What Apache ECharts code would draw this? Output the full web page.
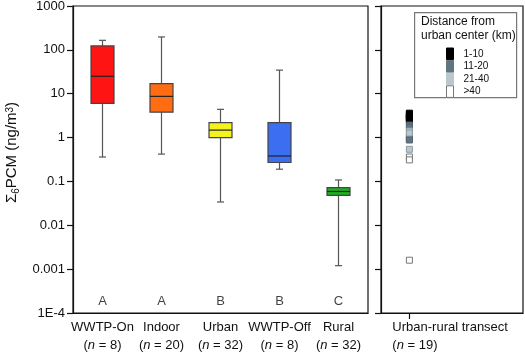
<!DOCTYPE html>
<html><head><meta charset="utf-8">
<script src="https://cdn.jsdelivr.net/npm/echarts@6/dist/echarts.min.js"></script>
<style>html,body{margin:0;padding:0;background:#fff}#c{width:525px;height:357px}</style>
</head><body><div id="c"></div>
<script>
// ---- data ----
const categories = ['WWTP-On', 'Indoor', 'Urban', 'WWTP-Off', 'Rural'];
const sampleN = [8, 20, 32, 8, 32];
const groupLetters = ['A', 'A', 'B', 'B', 'C'];
// [min, Q1, median, Q3, max]
const boxStats = [
  [0.36, 6.0, 25, 123, 165],
  [0.42, 3.8, 8.7, 17, 197],
  [0.034, 1.0, 1.48, 2.2, 4.4],
  [0.19, 0.27, 0.38, 2.2, 34.5],
  [0.0012, 0.048, 0.059, 0.072, 0.108]
];
const boxColors = ['#ff1414', '#ff6c12', '#f4f41c', '#3b6ef0', '#1fae1f'];
const yTickLabels = ['1E-4', '0.001', '0.01', '0.1', '1', '10', '100', '1000'];
const transectLabel = 'Urban-rural transect';
const transectN = 19;
const distanceClasses = ['1-10', '11-20', '21-40', '>40'];
const distanceColors = ['#000000', '#607580', '#b8c8cc', '#ffffff'];
const distanceBorders = ['#000000', '#56676f', '#8c9ca0', '#777777'];
const transectValues = [
  [3.6, 3.4, 3.2, 3.0, 2.9, 2.7, 2.6, 2.4],
  [1.93, 1.74, 1.03, 0.93, 0.88],
  [1.41, 1.27, 0.54],
  [0.36, 0.31, 0.0016]
];
const TRANSECT_POS = 0.2;     // position of transect category on right panel
const LETTER_Y = 0.00018;     // height of significance letters

const FONT = 'Liberation Sans, Arial, sans-serif';
const chart = echarts.init(document.getElementById('c'), null, {renderer: 'canvas'});

const boxData = boxStats.map((s, i) => ({value: [i].concat(s), itemStyle: {color: boxColors[i]}}));

const option = {
  animation: false,
  textStyle: {fontFamily: FONT},
  grid: [
    {left: 73, top: 6, width: 295, height: 307, show: true, borderColor: '#111', borderWidth: 1.2, backgroundColor: 'transparent', outerBoundsMode: 'none', containLabel: false},
    {left: 381, top: 6, width: 142, height: 307, show: true, borderColor: '#111', borderWidth: 1.2, backgroundColor: 'transparent', outerBoundsMode: 'none', containLabel: false}
  ],
  xAxis: [
    {
      type: 'category', gridIndex: 0, data: categories,
      axisLine: {lineStyle: {color: '#111', width: 1.2}},
      axisTick: {alignWithLabel: true, length: 6, lineStyle: {color: '#111', width: 1.2}},
      axisLabel: {
        interval: 0, hideOverlap: false, margin: 5, fontFamily: FONT, fontSize: 13, color: '#111', lineHeight: 18,
        formatter: (name, idx) => name + '\n{p|(}{i|n}{p| = ' + sampleN[idx] + ')}',
        rich: {p: {fontSize: 13, fontFamily: FONT, color: '#111'}, i: {fontSize: 13, fontStyle: 'italic', fontFamily: FONT, color: '#111'}}
      },
      splitLine: {show: false}
    },
    {
      type: 'value', gridIndex: 1, min: 0, max: 1,
      axisLine: {lineStyle: {color: '#111', width: 1.2}},
      axisTick: {customValues: [TRANSECT_POS], length: 6, lineStyle: {color: '#111', width: 1.2}},
      axisLabel: {
        customValues: [0.08], align: 'left', margin: 5, fontFamily: FONT, fontSize: 13, color: '#111', lineHeight: 18,
        formatter: () => transectLabel + '\n{p|(}{i|n}{p| = ' + transectN + ')}',
        rich: {p: {fontSize: 13, fontFamily: FONT, color: '#111'}, i: {fontSize: 13, fontStyle: 'italic', fontFamily: FONT, color: '#111'}}
      },
      splitLine: {show: false}
    }
  ],
  yAxis: [
    {
      type: 'log', logBase: 10, gridIndex: 0, min: 0.0001, max: 1000,
      axisLine: {show: true, lineStyle: {color: '#111', width: 1.2}},
      axisTick: {show: true, length: 6, lineStyle: {color: '#111', width: 1.2}},
      axisLabel: {
        margin: 8, fontFamily: FONT, fontSize: 13, color: '#111',
        formatter: v => yTickLabels[Math.round(Math.log10(v)) + 4]
      },
      splitLine: {show: false},
      name: '{s|Σ}{sub|6}{s|PCM (ng/m}{sup|3}{s|)}',
      nameLocation: 'middle', nameGap: 49,
      nameTextStyle: {
        fontFamily: FONT, color: '#111', padding: [0, 0, 0, 14],
        rich: {
          s: {fontSize: 15, fontFamily: FONT, color: '#111', lineHeight: 18},
          sub: {fontSize: 10, fontFamily: FONT, color: '#111', lineHeight: 18, verticalAlign: 'bottom', padding: [0, 0, -1, 0]},
          sup: {fontSize: 10, fontFamily: FONT, color: '#111', lineHeight: 18, verticalAlign: 'top', padding: [3, 0, 0, 0]}
        }
      }
    },
    {
      type: 'log', logBase: 10, gridIndex: 1, min: 0.0001, max: 1000,
      axisLine: {show: true, lineStyle: {color: '#111', width: 1.2}},
      axisTick: {show: true, length: 6, lineStyle: {color: '#111', width: 1.2}},
      axisLabel: {show: false},
      splitLine: {show: false}
    }
  ],
  legend: {
    data: distanceClasses.map((n, k) => ({name: n, itemStyle: {color: distanceColors[k], borderColor: k === 3 ? '#777' : distanceColors[k], borderWidth: 1}})),
    orient: 'vertical', left: 446, top: 47.5, icon: 'rect', padding: 0,
    itemWidth: 7, itemHeight: 11.6, itemGap: 0, z: 10,
    textStyle: {fontFamily: FONT, fontSize: 10, lineHeight: 11.6, color: '#111', padding: [1, 0, 0, 5]}
  },
  graphic: [
    {type: 'rect', left: 414, top: 12, shape: {width: 102, height: 85}, style: {fill: '#fff', stroke: '#777', lineWidth: 1.2}, z: 5},
    {type: 'text', left: 421, top: 15, z: 6, style: {text: 'Distance from\nurban center (km)', font: '12px ' + FONT, lineHeight: 14, fill: '#111'}}
  ],
  series: [
    {
      type: 'custom', xAxisIndex: 0, yAxisIndex: 0, data: boxData,
      renderItem: (params, api) => {
        const x = api.value(0);
        const pMin = api.coord([x, api.value(1)]);
        const pQ1 = api.coord([x, api.value(2)]);
        const pMed = api.coord([x, api.value(3)]);
        const pQ3 = api.coord([x, api.value(4)]);
        const pMax = api.coord([x, api.value(5)]);
        const cx = pMin[0];
        const hw = 11.5, cw = 3.5;
        const color = boxColors[params.dataIndex];
        const wl = {stroke: '#555', lineWidth: 1.2};
        return {
          type: 'group',
          children: [
            {type: 'line', shape: {x1: cx, y1: pMax[1], x2: cx, y2: pQ3[1]}, style: wl},
            {type: 'line', shape: {x1: cx, y1: pQ1[1], x2: cx, y2: pMin[1]}, style: wl},
            {type: 'line', shape: {x1: cx - cw, y1: pMax[1], x2: cx + cw, y2: pMax[1]}, style: wl},
            {type: 'line', shape: {x1: cx - cw, y1: pMin[1], x2: cx + cw, y2: pMin[1]}, style: wl},
            {type: 'rect', shape: {x: cx - hw, y: pQ3[1], width: 2 * hw, height: pQ1[1] - pQ3[1]}, style: {fill: color, stroke: '#444', lineWidth: 1.2}},
            {type: 'line', shape: {x1: cx - hw, y1: pMed[1], x2: cx + hw, y2: pMed[1]}, style: {stroke: '#222', lineWidth: 1.2}}
          ]
        };
      }
    },
    {
      type: 'scatter', xAxisIndex: 0, yAxisIndex: 0, symbolSize: 0, silent: true,
      data: groupLetters.map((l, i) => [i, LETTER_Y]),
      label: {show: true, position: 'inside', formatter: p => groupLetters[p.dataIndex], fontFamily: FONT, fontSize: 13, color: '#111'}
    }
  ].concat(distanceClasses.map((name, k) => ({
    type: 'scatter', name: name, xAxisIndex: 1, yAxisIndex: 1, symbol: 'rect', symbolSize: 6,
    itemStyle: {color: distanceColors[k], borderColor: distanceBorders[k], borderWidth: 1, opacity: 1},
    z: 3 + k,
    data: transectValues[k].map(v => [TRANSECT_POS, v])
  })))
};
chart.setOption(option);
</script></body></html>
